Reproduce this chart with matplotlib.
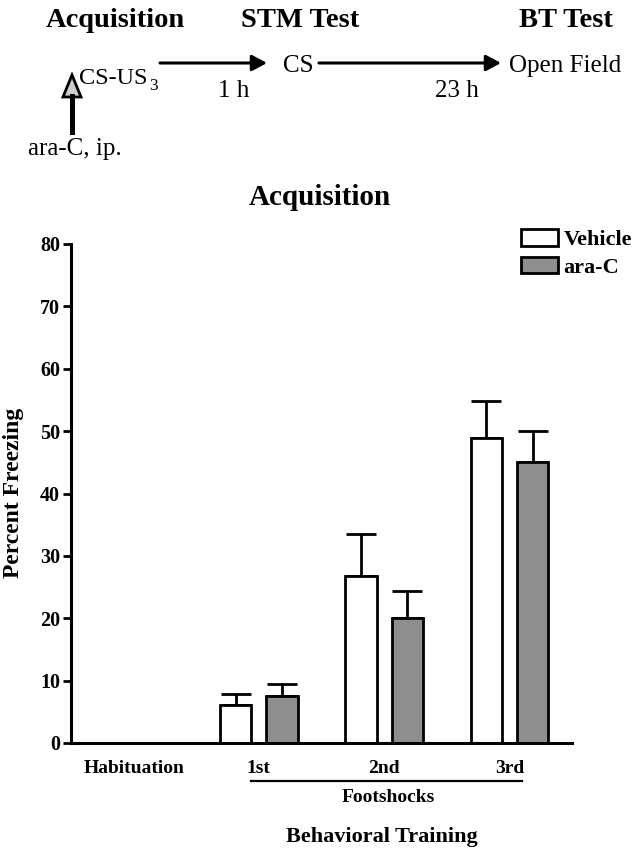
import numpy as np
import matplotlib
matplotlib.use('Agg')
import matplotlib.pyplot as plt
from matplotlib.patches import Polygon, FancyArrowPatch
import matplotlib.transforms as mtransforms

plt.rcParams['font.family'] = ['Liberation Serif', 'DejaVu Serif']

# data
stages = ['Habituation', '1st', '2nd', '3rd']
vehicle = [0.0, 6.1, 26.8, 48.9]
vehicle_sem = [0.0, 1.8, 6.7, 5.9]
arac = [0.0, 7.5, 20.0, 45.0]
arac_sem = [0.0, 2.0, 4.4, 5.0]
yticks = [0, 10, 20, 30, 40, 50, 60, 70, 80]

W, H = 636, 852
fig = plt.figure(figsize=(W / 100, H / 100), dpi=100)


def fx(x):
    return x / W


def fy(y):
    return 1 - y / H


ax = fig.add_axes([fx(71), fy(743), (572 - 71) / W, (743 - 244) / H])
x = np.arange(len(stages))
off = 0.185
bw = 0.25
ax.bar(x - off, vehicle, bw, color='white', edgecolor='black', linewidth=2, label='Vehicle', zorder=2)
ax.bar(x + off, arac, bw, color='#8e8e8e', edgecolor='black', linewidth=2, label='ara-C', zorder=2)
for i in range(len(stages)):
    if vehicle_sem[i] > 0:
        ax.errorbar(x[i] - off, vehicle[i], yerr=[[0], [vehicle_sem[i]]], fmt='none',
                    ecolor='black', elinewidth=2, capsize=11, capthick=2, zorder=1)
    if arac_sem[i] > 0:
        ax.errorbar(x[i] + off, arac[i], yerr=[[0], [arac_sem[i]]], fmt='none',
                    ecolor='black', elinewidth=2, capsize=11, capthick=2, zorder=1)

ax.set_xlim(-0.5, 3.5)
ax.set_ylim(0, 80)
ax.set_yticks(yticks)
ax.set_xticks(x)
ax.set_xticklabels(stages, fontsize=14, fontweight='bold')
for t in ax.get_yticklabels():
    t.set_fontsize(14.5)
    t.set_fontweight('bold')
ax.tick_params(axis='y', length=6, width=2, pad=2)
ax.tick_params(axis='x', length=0, pad=12)
for s in ['top', 'right']:
    ax.spines[s].set_visible(False)
for s in ['left', 'bottom']:
    ax.spines[s].set_linewidth(2.2)

leg = ax.legend(loc='upper left', bbox_to_anchor=(fx(521), fy(229)), bbox_transform=fig.transFigure,
                frameon=False, borderpad=0, borderaxespad=0, handlelength=1.67, handleheight=0.77,
                handletextpad=0.25, labelspacing=0.3, prop={'size': 16, 'weight': 'bold'})

# axis labels and footshock bracket
fig.text(fx(14), fy(493), 'Percent Freezing', rotation=90, ha='center', va='center',
         fontsize=17, fontweight='bold')
tr = mtransforms.blended_transform_factory(ax.transData, fig.transFigure)
ax.plot([0.94, 3.1], [fy(781), fy(781)], color='black', lw=1.6, transform=tr, clip_on=False)
fig.text(fx(388), fy(798), 'Footshocks', ha='center', va='center', fontsize=14, fontweight='bold')
fig.text(fx(382), fy(837), 'Behavioral Training', ha='center', va='center', fontsize=16, fontweight='bold')
fig.text(fx(320), fy(205), 'Acquisition', ha='center', va='baseline', fontsize=21, fontweight='bold')

# protocol diagram on top
fig.text(fx(115), fy(27), 'Acquisition', ha='center', va='baseline', fontsize=20.5, fontweight='bold')
fig.text(fx(300), fy(27), 'STM Test', ha='center', va='baseline', fontsize=20.5, fontweight='bold')
fig.text(fx(566), fy(27), 'BT Test', ha='center', va='baseline', fontsize=20.5, fontweight='bold')
fig.text(fx(79), fy(84), 'CS-US', ha='left', va='baseline', fontsize=17.5)
fig.text(fx(149), fy(90), '3', ha='left', va='baseline', fontsize=12.5)
fig.text(fx(283), fy(72), 'CS', ha='left', va='baseline', fontsize=18)
fig.text(fx(509), fy(72), 'Open Field', ha='left', va='baseline', fontsize=18)
fig.text(fx(234), fy(97), '1 h', ha='center', va='baseline', fontsize=18)
fig.text(fx(457), fy(97), '23 h', ha='center', va='baseline', fontsize=18)
fig.text(fx(28), fy(155), 'ara-C, ip.', ha='left', va='baseline', fontsize=18)

for x0, x1 in [(160, 267), (319, 501)]:
    fig.add_artist(FancyArrowPatch((fx(x0), fy(63)), (fx(x1), fy(63)), transform=fig.transFigure,
                                   arrowstyle='-|>,head_length=0.45,head_width=0.24', mutation_scale=20,
                                   color='black', lw=2.2, shrinkA=0, shrinkB=0))

fig.add_artist(plt.Line2D([fx(72), fx(72)], [fy(132), fy(96)], color='black', lw=3.6,
                          transform=fig.transFigure))
fig.add_artist(Polygon([(fx(63), fy(97)), (fx(81), fy(97)), (fx(72), fy(75))], closed=True,
                       facecolor='#cfcfcf', edgecolor='black', lw=2, transform=fig.transFigure))

fig.savefig('out.png', dpi=100)
